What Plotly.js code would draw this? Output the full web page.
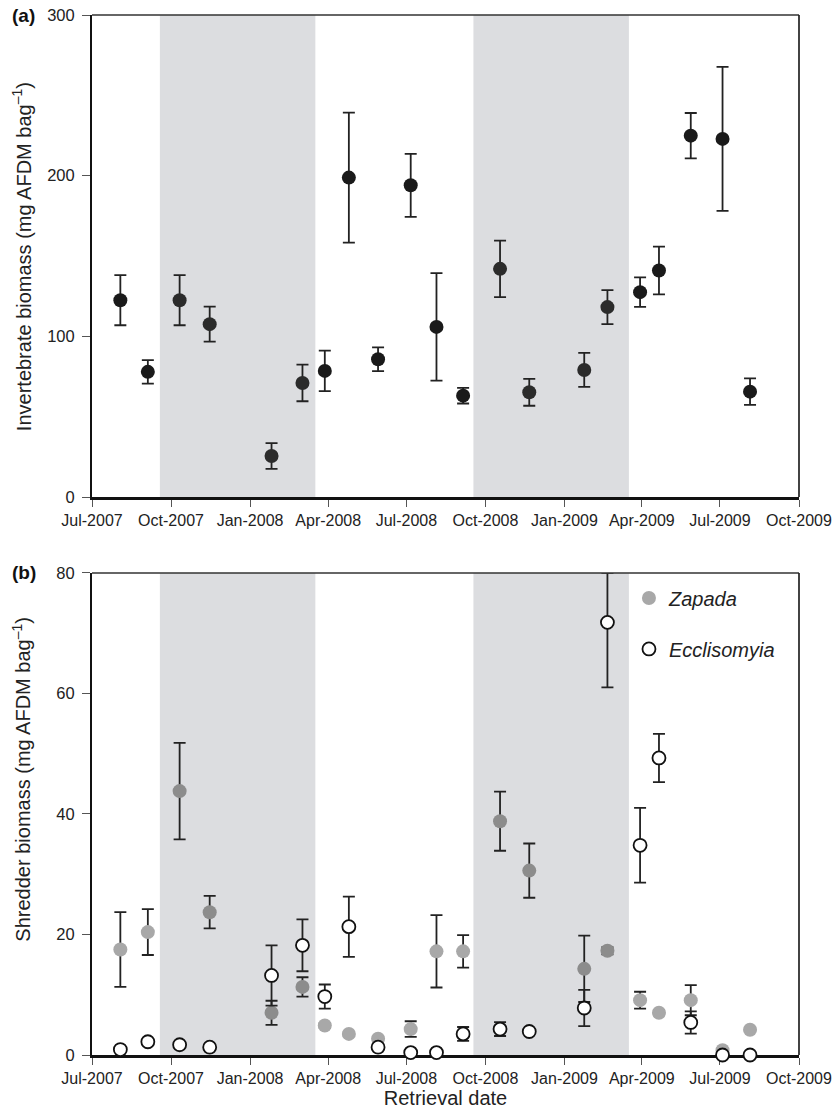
<!DOCTYPE html>
<html>
<head>
<meta charset="utf-8">
<script src="https://cdn.plot.ly/plotly-3.0.1.min.js"></script>
<style>html,body{margin:0;padding:0;background:#fff;}</style>
</head>
<body>
<div id="chart" style="width:834px;height:1111px;"></div>
<script>
// Retrieval dates (shared by both panels)
const retrievalDates = ['2007-08-03','2007-09-04','2007-10-11','2007-11-15','2008-01-26','2008-03-02','2008-03-28','2008-04-25','2008-05-29','2008-07-06','2008-08-05','2008-09-05','2008-10-18','2008-11-21','2009-01-24','2009-02-20','2009-03-30','2009-04-21','2009-05-28','2009-07-04','2009-08-05'];

// Panel (a): invertebrate biomass (mg AFDM bag^-1) and SE
const invertBiomass = [122.5, 77.9, 122.5, 107.6, 25.5, 71.0, 78.5, 198.8, 85.8, 194.0, 105.9, 63.1, 142.0, 65.2, 79.1, 118.2, 127.5, 141.0, 224.9, 222.9, 65.6];
const invertSE = [15.6, 7.3, 15.6, 10.9, 8.0, 11.4, 12.6, 40.5, 7.4, 19.6, 33.4, 4.9, 17.6, 8.4, 10.6, 10.6, 9.2, 14.9, 14.1, 44.8, 8.3];

// Panel (b): shredder biomass
const zapadaBiomass = [17.5, 20.4, 43.8, 23.7, 7.0, 11.3, 4.9, 3.5, 2.7, 4.3, 17.2, 17.2, 38.8, 30.6, 14.3, 17.3, 9.1, 7.0, 9.1, 0.8, 4.2];
const zapadaSE = [6.2, 3.8, 8.0, 2.7, 2.0, 1.6, 0.4, 0.3, 0.3, 1.3, 6.0, 2.7, 4.9, 4.5, 5.5, 0.6, 1.4, 0.4, 2.5, 0.2, 0.3];
const ecclisomyiaBiomass = [0.9, 2.2, 1.7, 1.3, 13.2, 18.2, 9.7, 21.3, 1.3, 0.4, 0.4, 3.5, 4.3, 3.9, 7.8, 71.8, 34.8, 49.3, 5.4, 0.0, 0.0];
const ecclisomyiaSEUp = [0, 0, 0, 0, 5.0, 4.3, 2.0, 5.0, 0, 0, 0, 1.15, 1.15, 0, 3.0, 8.2, 6.2, 4.0, 1.85, 0, 0];
const ecclisomyiaSEDown = [0, 0, 0, 0, 5.0, 4.3, 2.0, 5.0, 0, 0, 0, 1.15, 1.15, 0, 3.0, 10.8, 6.2, 4.0, 1.85, 0, 0];

// Shaded (winter) periods
const shadeStart = ['2007-09-18', '2008-09-17'];
const shadeEnd = ['2008-03-17', '2009-03-17'];

const xRange = ['2007-07-01', '2009-10-01'];
const seriesNames = ['Zapada', 'Ecclisomyia'];

function inShade(d) {
  const t = new Date(d).getTime();
  for (let i = 0; i < shadeStart.length; i++) {
    if (t >= new Date(shadeStart[i]).getTime() && t <= new Date(shadeEnd[i]).getTime()) return true;
  }
  return false;
}

const FONT = 'Liberation Sans, Arial, Helvetica, sans-serif';
const errStyle = {type: 'data', visible: true, color: '#222', thickness: 1.8, width: 6};

const traceA = {
  x: retrievalDates, y: invertBiomass, xaxis: 'x', yaxis: 'y',
  type: 'scatter', mode: 'markers', showlegend: false, cliponaxis: false,
  marker: {size: 14, color: retrievalDates.map(d => inShade(d) ? '#2b2b2b' : '#1a1a1a'), line: {width: 0}},
  error_y: Object.assign({array: invertSE}, errStyle)
};

const traceZ = {
  x: retrievalDates, y: zapadaBiomass, xaxis: 'x2', yaxis: 'y2',
  type: 'scatter', mode: 'markers', name: seriesNames[0],
  legendgroup: 'z', cliponaxis: false,
  marker: {size: 14, color: retrievalDates.map(d => inShade(d) ? '#8c8c8c' : '#a8a8a8'), line: {width: 0}},
  error_y: Object.assign({array: zapadaSE}, errStyle)
};

const traceE = {
  x: retrievalDates, y: ecclisomyiaBiomass, xaxis: 'x2', yaxis: 'y2',
  type: 'scatter', mode: 'markers', name: seriesNames[1],
  legendgroup: 'e', cliponaxis: false,
  marker: {size: 13, color: '#ffffff', line: {width: 1.8, color: '#111'}},
  error_y: Object.assign({symmetric: false, array: ecclisomyiaSEUp, arrayminus: ecclisomyiaSEDown}, errStyle)
};

const xBase = {
  type: 'date', range: xRange, tick0: '2007-07-01', dtick: 'M3', tickformat: '%b-%Y',
  ticks: 'outside', ticklen: 7, tickwidth: 1, tickcolor: '#555',
  showline: true, linecolor: '#111', linewidth: 2.5, showgrid: false, zeroline: false,
  tickfont: {family: FONT, size: 16, color: '#222'}, layer: 'below traces', fixedrange: true
};
const yBase = {
  ticks: 'outside', ticklen: 8, tickwidth: 1, tickcolor: '#555', ticklabelstandoff: 4,
  showline: true, linecolor: '#111', linewidth: 2, showgrid: false, zeroline: false,
  tickfont: {family: FONT, size: 16.5, color: '#222'}, layer: 'below traces', fixedrange: true
};

const shapes = [];
[['x', 'y'], ['x2', 'y2']].forEach(([xa, ya]) => {
  for (let i = 0; i < shadeStart.length; i++) {
    shapes.push({type: 'rect', xref: xa, yref: ya + ' domain', x0: shadeStart[i], x1: shadeEnd[i], y0: 0, y1: 1,
      fillcolor: '#dcdde0', line: {width: 0}, layer: 'below'});
  }
  shapes.push({type: 'line', xref: xa + ' domain', yref: ya + ' domain', x0: 0, x1: 1, y0: 1, y1: 1, line: {color: '#333', width: 1.4}});
  shapes.push({type: 'line', xref: xa + ' domain', yref: ya + ' domain', x0: 1, x1: 1, y0: 0, y1: 1, line: {color: '#222', width: 1.7}});
});

const layout = {
  width: 834, height: 1111,
  margin: {l: 92, r: 35, t: 15, b: 56},
  paper_bgcolor: '#fff', plot_bgcolor: 'rgba(0,0,0,0)',
  font: {family: FONT, color: '#222'},
  xaxis: Object.assign({}, xBase, {anchor: 'y', domain: [0, 1]}),
  xaxis2: Object.assign({}, xBase, {anchor: 'y2', domain: [0, 1],
    title: {text: 'Retrieval date', font: {family: FONT, size: 20, color: '#222'}, standoff: 6}}),
  yaxis: Object.assign({}, yBase, {anchor: 'x', domain: [0.5365, 1], range: [0, 300], tickvals: [0, 100, 200, 300]}),
  yaxis2: Object.assign({}, yBase, {anchor: 'x2', domain: [0, 0.4635], range: [0, 80], tickvals: [0, 20, 40, 60, 80]}),
  shapes: shapes,
  showlegend: true,
  legend: {x: 0.7595, y: 0.4582, xanchor: 'left', yanchor: 'top', bgcolor: 'rgba(0,0,0,0)', borderwidth: 0,
    traceorder: 'grouped', tracegroupgap: 22, font: {family: FONT, size: 20, color: '#222', style: 'italic'}},
  annotations: [
    {text: '(a)', xref: 'paper', yref: 'paper', x: -0.1165, y: 1.0, xanchor: 'left', yanchor: 'middle', showarrow: false,
      font: {family: FONT, size: 19, color: '#111', weight: 'bold'}},
    {text: '(b)', xref: 'paper', yref: 'paper', x: -0.1165, y: 0.4635, xanchor: 'left', yanchor: 'middle', showarrow: false,
      font: {family: FONT, size: 19, color: '#111', weight: 'bold'}},
    {text: 'Invertebrate biomass (mg AFDM bag<sup>–1</sup>)', xref: 'paper', yref: 'paper', x: -0.0995, y: 0.7678,
      xanchor: 'center', yanchor: 'middle', textangle: -90, showarrow: false, font: {family: FONT, size: 20, color: '#222'}},
    {text: 'Shredder biomass (mg AFDM bag<sup>–1</sup>)', xref: 'paper', yref: 'paper', x: -0.0995, y: 0.2654,
      xanchor: 'center', yanchor: 'middle', textangle: -90, showarrow: false, font: {family: FONT, size: 20, color: '#222'}}
  ]
};

Plotly.newPlot('chart', [traceA, traceZ, traceE], layout, {displayModeBar: false, staticPlot: true});
</script>
</body>
</html>
